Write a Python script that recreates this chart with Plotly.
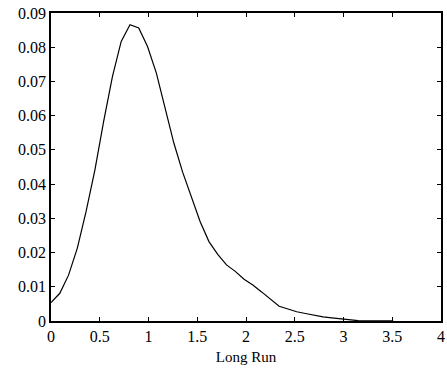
import plotly.graph_objects as go

x_vals = [0.0, 0.09, 0.18, 0.27, 0.36, 0.45, 0.54, 0.63, 0.72, 0.81, 0.9, 0.99,
          1.08, 1.17, 1.26, 1.35, 1.44, 1.53, 1.62, 1.71, 1.8, 1.89, 1.98, 2.07,
          2.16, 2.25, 2.34, 2.43, 2.52, 2.61, 2.7, 2.79, 2.88, 2.97, 3.06, 3.15,
          3.24, 3.33, 3.42, 3.51]
density = [0.0054, 0.0081, 0.0134, 0.0213, 0.032, 0.0441, 0.0583, 0.0714, 0.0817,
           0.0866, 0.0856, 0.0802, 0.0725, 0.0625, 0.052, 0.0435, 0.036, 0.029,
           0.0232, 0.0195, 0.0164, 0.0145, 0.0122, 0.0105, 0.0085, 0.0065, 0.0043,
           0.0035, 0.0027, 0.0022, 0.0016, 0.0012, 0.0009, 0.0006, 0.0003, 0.0001,
           0.00005, 0.00003, 0.00002, 0.00001]
x_ticks = [0, 0.5, 1, 1.5, 2, 2.5, 3, 3.5, 4]
y_ticks = [0, 0.01, 0.02, 0.03, 0.04, 0.05, 0.06, 0.07, 0.08, 0.09]

fig = go.Figure(go.Scatter(x=x_vals, y=density, mode="lines",
                           line=dict(color="black", width=1.2)))

font = dict(family="Liberation Serif", size=16, color="black")
fig.update_layout(
    width=447, height=369,
    margin=dict(l=51, r=2, t=13, b=48),
    paper_bgcolor="white", plot_bgcolor="white",
    showlegend=False,
    font=font,
)
fig.update_xaxes(range=[0, 4], tickvals=x_ticks, ticktext=[f"{v:g}" for v in x_ticks],
                 ticks="inside", ticklen=4, tickcolor="black", showgrid=False,
                 zeroline=False, showline=True, linecolor="black", linewidth=1.5,
                 mirror="ticks", title=dict(text="Long Run", font=dict(family="Liberation Serif", size=15), standoff=8),
                 tickfont=font)
fig.update_yaxes(range=[0, 0.09], tickvals=y_ticks, ticktext=[f"{v:g}" for v in y_ticks],
                 ticks="inside", ticklen=4, tickcolor="black", showgrid=False,
                 zeroline=False, showline=True, linecolor="black", linewidth=1.5,
                 mirror="ticks", tickfont=font)

fig.write_html("out.html")
